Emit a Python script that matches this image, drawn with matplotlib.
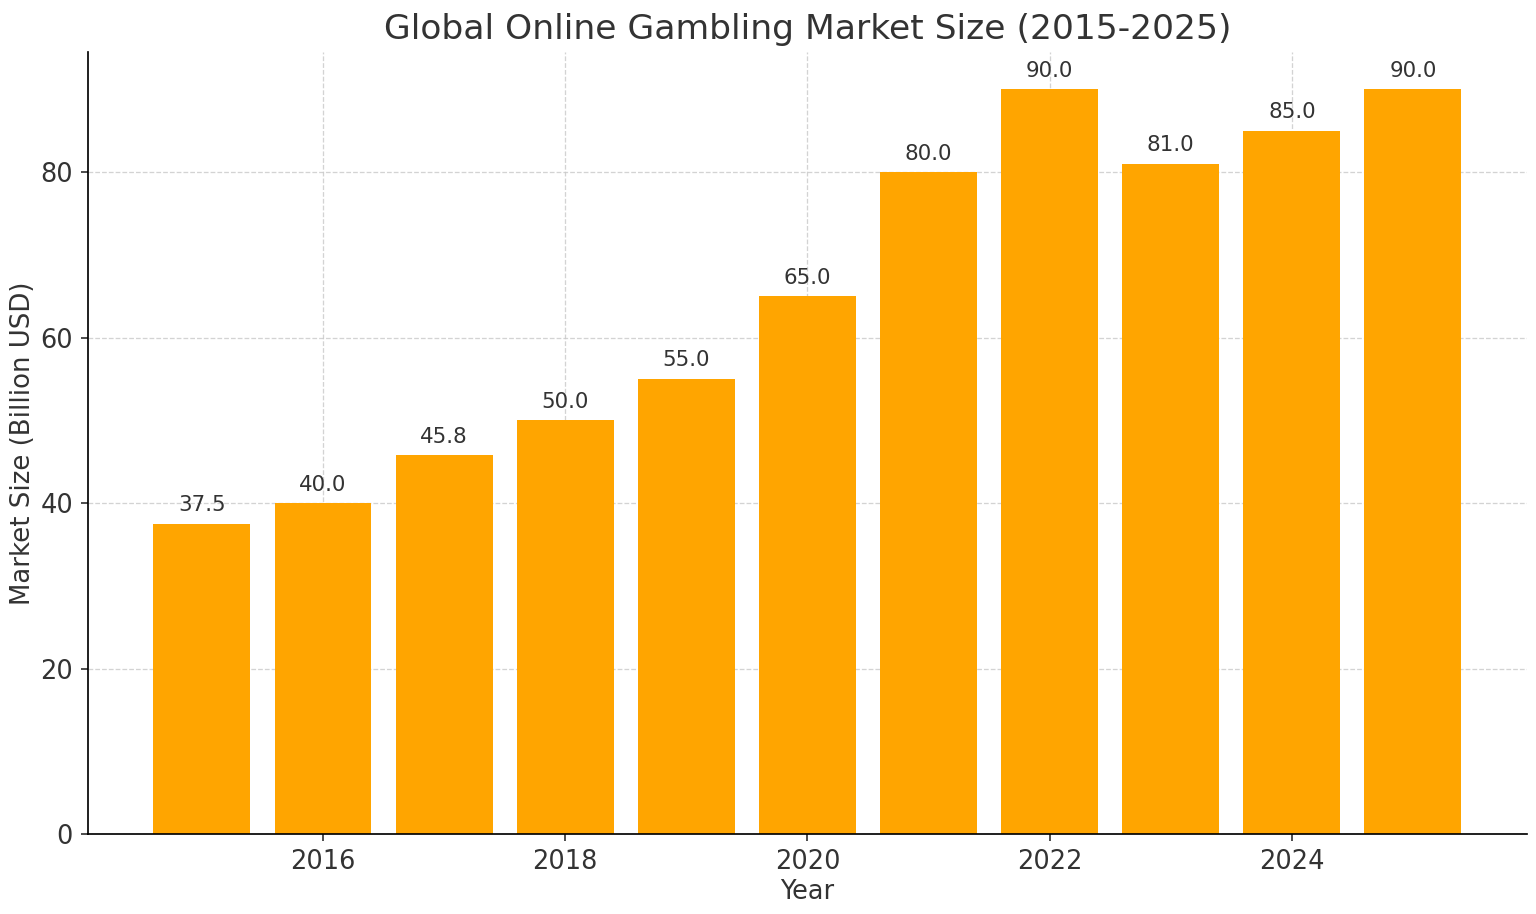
import matplotlib
matplotlib.use("Agg")
import matplotlib.pyplot as plt

# Données du graphique
years = [2015, 2016, 2017, 2018, 2019, 2020, 2021, 2022, 2023, 2024, 2025]
market_size = [37.5, 40.0, 45.8, 50.0, 55.0, 65.0, 80.0, 90.0, 81.0, 85.0, 90.0]

txt = "#333333"
plt.rcParams['font.family'] = ['DejaVu Sans']
plt.rcParams['text.color'] = txt
plt.rcParams['axes.labelcolor'] = txt
plt.rcParams['xtick.color'] = txt
plt.rcParams['ytick.color'] = txt

fig = plt.figure(figsize=(10, 914 / 153.6), dpi=153.6)
ax = fig.add_axes([0.0573, 0.0875, 0.9367, 0.8555])

bars = ax.bar(years, market_size, color='orange', width=0.8, zorder=2)

# Valeurs au-dessus des barres
for b, v in zip(bars, market_size):
    ax.annotate(f"{v:.1f}", (b.get_x() + b.get_width() / 2, v),
                xytext=(0, 4), textcoords="offset points",
                ha='center', va='bottom', fontsize=10, color=txt)

ax.set_title("Global Online Gambling Market Size (2015-2025)", fontsize=16.2)
ax.set_xlabel("Year", fontsize=12, labelpad=2)
ax.set_ylabel("Market Size (Billion USD)", fontsize=12.2, labelpad=2)
ax.tick_params(labelsize=12)
ax.set_ylim(0, 94.5)
ax.grid(True, linestyle='--', color='#c8c8c8', linewidth=0.6, alpha=0.8, zorder=0)
ax.spines['top'].set_visible(False)
ax.spines['right'].set_visible(False)

fig.savefig("out.png", dpi=153.6)
